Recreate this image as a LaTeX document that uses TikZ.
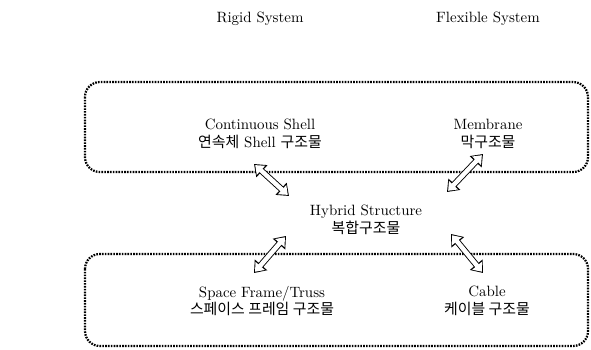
\documentclass[tikz,border=0pt]{standalone}
\usepackage{fontspec}
\newfontfamily\kr{Noto Sans CJK KR}
\usetikzlibrary{arrows.meta}
\tikzset{
  dotbox/.style={draw, line width=1.5pt, dash pattern=on 1.1pt off 0.8pt, rounded corners=10pt},
  label/.style={align=center, inner sep=1pt},
  duct/.style={draw=white, line width=3pt, shorten >=1.1pt, shorten <=1.1pt,
    {Triangle[length=5.2pt,width=8pt,fill=white]}-{Triangle[length=5.2pt,width=8pt,fill=white]},
    preaction={draw=black, line width=4.2pt, shorten >=0pt, shorten <=0pt,
      {Triangle[length=7.2pt,width=10.6pt]}-{Triangle[length=7.2pt,width=10.6pt]}}}
}

\begin{document}
\begin{tikzpicture}[x=0.67pt,y=-0.67pt]
\useasboundingbox (0,0) rectangle (591,350);
\node (rigid) at (260,19) {Rigid System};
\node (flexible) at (488,19) {Flexible System};
%
\draw[dotbox] (85,82) rectangle (588,172);
\draw[dotbox] (85,254) rectangle (588,346);
%
\node[label] (shell) at (260,134) {Continuous Shell\\{\kr 연속체} Shell {\kr 구조물}};
\node[label] (membrane) at (488,134) {Membrane\\{\kr 막구조물}};
\node[label] (hybrid) at (366,220) {Hybrid Structure\\{\kr 복합구조물}};
\node[label] (truss) at (262,301) {Space Frame/Truss\\{\kr 스페이스 프레임 구조물}};
\node[label] (cable) at (487,301) {Cable\\{\kr 케이블 구조물}};
%
\coordinate (shellend) at (254,164);
\coordinate (hybridnw) at (289,196);
\coordinate (membraneend) at (483,154);
\coordinate (hybridne) at (447,192);
\coordinate (trussend) at (254,273);
\coordinate (hybridsw) at (286,236);
\coordinate (cableend) at (483,273);
\coordinate (hybridse) at (451,234);
%
\draw[duct] (shellend) -- (hybridnw);
\draw[duct] (membraneend) -- (hybridne);
\draw[duct] (trussend) -- (hybridsw);
\draw[duct] (cableend) -- (hybridse);
\end{tikzpicture}
\end{document}
